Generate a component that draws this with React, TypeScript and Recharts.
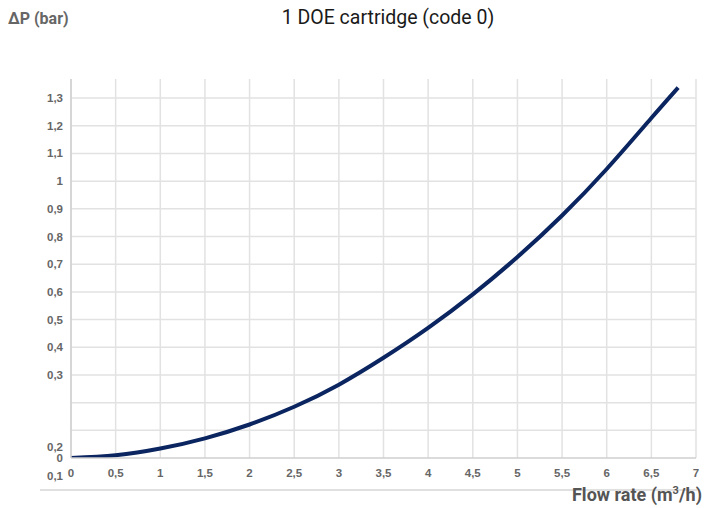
import React from "react";
import { LineChart, Line, XAxis, YAxis, CartesianGrid } from "recharts";

const flowRates = [0, 0.5, 1, 1.5, 2, 2.5, 3, 3.5, 4, 4.5, 5, 5.5, 6, 6.5, 6.8];
const pressureDrop = [0, 0.01, 0.034, 0.071, 0.121, 0.185, 0.265, 0.362, 0.47, 0.591, 0.726, 0.876, 1.044, 1.228, 1.338];
const xTicks = [0, 0.5, 1, 1.5, 2, 2.5, 3, 3.5, 4, 4.5, 5, 5.5, 6, 6.5, 7];
const yTicks = [0, 0.1, 0.2, 0.3, 0.4, 0.5, 0.6, 0.7, 0.8, 0.9, 1, 1.1, 1.2, 1.3];

const data = flowRates.map((q, i) => ({ q, dp: pressureDrop[i] }));

const fmt = (v: number) => String(Math.round(v * 10) / 10).replace(".", ",");

const tickFont = "'Liberation Sans', Arial, sans-serif";

const YTick = (props: any) => {
  const { x, y, payload } = props;
  const v = Math.round(payload.value * 10) / 10;
  let dy = 0;
  if (v === 0.2) dy = 44;
  if (v === 0.1) dy = 46;
  return (
    <text
      x={x}
      y={y + dy}
      textAnchor="end"
      dominantBaseline="central"
      fontSize={11.5}
      fontWeight="bold"
      fill="#666"
      fontFamily={tickFont}
    >
      {fmt(v)}
    </text>
  );
};

export default function App() {
  return (
    <div style={{ position: "absolute", left: 0, top: 0, width: 706, height: 508, background: "#fff" }}>
      <div
        style={{
          position: "absolute",
          left: 8,
          top: 9,
          fontFamily: "Roboto, sans-serif",
          fontWeight: "bold",
          fontSize: 16,
          color: "#666",
          whiteSpace: "nowrap",
        }}
      >
        ΔP (bar)
      </div>
      <div
        style={{
          position: "absolute",
          left: 0,
          width: 776,
          top: 6,
          textAlign: "center",
          fontFamily: "Roboto, sans-serif",
          fontSize: 19.5,
          color: "#1a1a1a",
          whiteSpace: "nowrap",
        }}
      >
        1 DOE cartridge (code 0)
      </div>
      <LineChart
        width={706}
        height={508}
        data={data}
        margin={{ top: 79, right: 10, bottom: 20, left: 0 }}
      >
        <CartesianGrid stroke="#e2e2e2" strokeWidth={1.5} horizontalValues={yTicks.slice(1)} verticalValues={xTicks} />
        <XAxis
          dataKey="q"
          type="number"
          domain={[0, 7]}
          ticks={xTicks}
          tickFormatter={fmt}
          tickLine={false}
          tickMargin={5}
          axisLine={{ stroke: "#cfcfcf", strokeWidth: 1.5 }}
          tick={{ fontSize: 11.5, fontWeight: "bold", fill: "#666", fontFamily: tickFont }}
          interval={0}
          height={30}
        />
        <YAxis
          type="number"
          domain={[0, 1.369]}
          ticks={yTicks}
          tick={<YTick />}
          tickLine={false}
          axisLine={{ stroke: "#cfcfcf", strokeWidth: 1.5 }}
          width={71}
          interval={0}
          allowDataOverflow
        />
        <Line
          type="natural"
          dataKey="dp"
          stroke="#0b2560"
          strokeWidth={4}
          dot={false}
          isAnimationActive={false}
        />
      </LineChart>
      <div
        style={{
          position: "absolute",
          left: 40,
          top: 489,
          width: 657,
          height: 1.5,
          background: "#e0e0e0",
        }}
      />
      <div
        style={{
          position: "absolute",
          right: 4,
          top: 484,
          fontFamily: "Roboto, sans-serif",
          fontWeight: "bold",
          fontSize: 18,
          color: "#555",
          whiteSpace: "nowrap",
        }}
      >
        Flow rate (m<sup style={{ fontSize: 11 }}>3</sup>/h)
      </div>
    </div>
  );
}
